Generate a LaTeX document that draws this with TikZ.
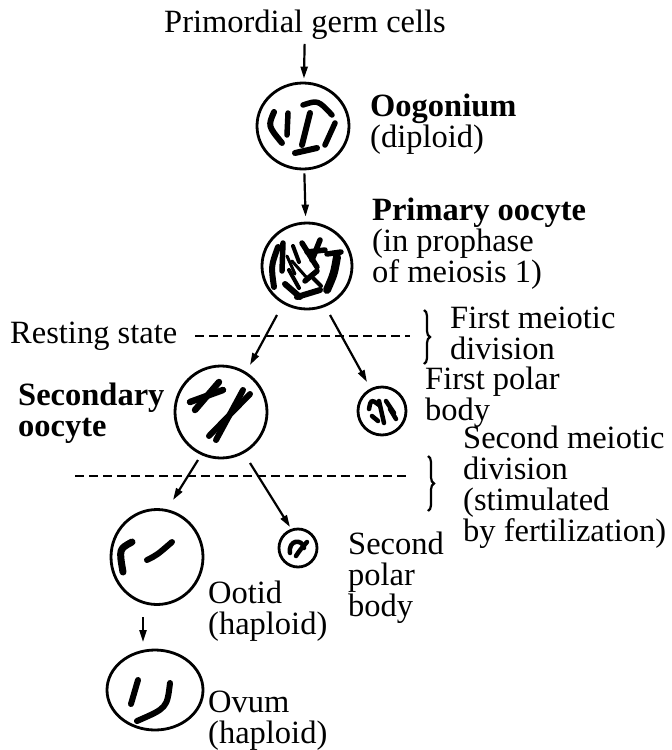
\documentclass[tikz,border=0pt]{standalone}
\usepackage{fontspec}
\setmainfont{Liberation Serif}
\usetikzlibrary{arrows.meta,shapes.geometric,decorations.pathreplacing}
\begin{document}
\begin{tikzpicture}[x=1pt,y=-1pt,
  cell/.style={draw,line width=2.8pt,ellipse,inner sep=0pt},
  lbl/.style={anchor=west,align=left,inner sep=0pt,font=\fontsize{32.5}{31}\selectfont},
  arr/.style={line width=2.2pt,-{Triangle[length=12pt,width=7pt]}},
  chrom/.style={line width=5.5pt,line cap=round,line join=round},
  divline/.style={line width=2pt,dash pattern=on 9pt off 5pt},
  brk/.style={line width=2.2pt,decorate,decoration={brace,amplitude=6pt}}
]
\useasboundingbox[fill=white] (0,0) rectangle (672,750);

% cells and labels
\node[lbl,anchor=center] (pgc) at (305,25) {Primordial germ cells};

\node[cell,minimum width=92pt,minimum height=86pt] (oog) at (303,126) {};
\node[lbl] (oogl) at (370,124) {\textbf{Oogonium}\\(diploid)};

\node[cell,minimum width=90pt,minimum height=86pt] (po) at (307,266) {};
\node[lbl] (pol) at (372,244) {\textbf{Primary oocyte}\\(in prophase\\of meiosis 1)};

\node[lbl] (rest) at (10,336) {Resting state};
\coordinate (d1a) at (195,336);
\coordinate (d1b) at (410,336);
\coordinate (b1t) at (424,310);
\coordinate (b1b) at (424,364);
\node[lbl] (fmd) at (450,333) {First meiotic\\division};

\node[cell,minimum size=92pt] (so) at (221,412) {};
\node[lbl] (sol) at (18,413) {\textbf{Secondary}\\\textbf{oocyte}};
\node[cell,minimum size=48pt] (fpb) at (382,411) {};
\node[lbl] (fpbl) at (425,397) {First polar\\body};

\coordinate (d2a) at (75,476);
\coordinate (d2b) at (410,476);
\coordinate (b2t) at (428,456);
\coordinate (b2b) at (428,511);
\node[lbl] (smd) at (463,487) {Second meiotic\\division\\(stimulated\\by fertilization)};

\node[cell,minimum width=92pt,minimum height=95pt] (oot) at (157,557) {};
\node[cell,minimum size=38pt] (spb) at (298,548) {};
\node[lbl] (spbl) at (348,578) {Second\\polar\\body};
\node[lbl] (ootl) at (208,611) {Ootid\\(haploid)};

\node[cell,minimum width=96pt,minimum height=80pt] (ov) at (155,690) {};
\node[lbl] (ovl) at (208,721) {Ovum\\(haploid)};

% connectors
\draw[arr,shorten <=4pt,shorten >=3pt] (pgc) -- (oog);
\draw[arr,shorten <=3pt,shorten >=5pt] (oog) -- (po);
\draw[arr] ([shift={(-30,49)}]po.center) -- ([shift={(29,-47)}]so.center);
\draw[arr] ([shift={(23,49)}]po.center) -- ([shift={(-15,-29)}]fpb.center);
\draw[arr] ([shift={(-23,48)}]so.center) -- ([shift={(16,-57)}]oot.center);
\draw[arr] ([shift={(29,51)}]so.center) -- ([shift={(-8,-21)}]spb.center);
\draw[arr] ([shift={(-14,60)}]oot.center) -- ([shift={(-12,-48)}]ov.center);

% division lines and braces
\draw[divline] (d1a) -- (d1b);
\draw[divline] (d2a) -- (d2b);
\draw[brk] (b1t) -- (b1b);
\draw[brk] (b2t) -- (b2b);

% chromosomes: oogonium
\begin{scope}[shift={(oog.center)}]
  \draw[chrom,line width=6pt] (-29,-14) .. controls (-35,0) .. (-21,17);
  \draw[chrom] (-15,-13) -- (-16,9);
  \draw[chrom,line width=6pt] (7,-13) -- (-1,19);
  \draw[chrom] (0,-21) .. controls (15,-26) .. (29,-11);
  \draw[chrom] (32,-3) -- (22,19);
  \draw[chrom,line width=6pt] (-8,27) -- (14,22);
\end{scope}

% chromosomes: primary oocyte
\begin{scope}[shift={(po.center)}]
  \draw[chrom,line width=6pt] (-29,-19) .. controls (-36,0) .. (-33,21);
  \draw[chrom] (-24,-23) -- (-25,5);
  \draw[chrom,line width=3pt] (-20,-10) -- (-12,8);
  \draw[chrom,line width=6pt] (-22,18) -- (-7,31);
  \draw[chrom] (-5,-23) -- (10,1);
  \draw[chrom] (13,-26) -- (5,-6);
  \draw[chrom] (0,-14) -- (18,-16);
  \draw[chrom,line width=8pt] (30,-9) .. controls (27,8) .. (20,24);
  \draw[chrom] (20,-12) -- (34,-14);
  \draw[chrom,line width=6pt] (-10,31) -- (13,24);
  \draw[chrom] (-2,15) -- (10,5);
  \draw[chrom,line width=3pt] (-15,-5) -- (0,12);
  \draw[chrom,line width=4pt] (-14,-20) -- (-8,-4);
  \draw[chrom,line width=4pt] (-18,4) -- (-8,22);
  \draw[chrom,line width=4pt] (6,12) -- (14,20);
\end{scope}

% chromosomes: secondary oocyte
\begin{scope}[shift={(so.center)}]
  \draw[chrom,line width=6.5pt] (-31,-10) -- (2,-22);
  \draw[chrom,line width=6.5pt] (-26,-2) -- (-2,-30);
  \draw[chrom,line width=6pt] (-12,24) -- (29,-18);
  \draw[chrom,line width=6pt] (-5,28) -- (22,-22);
\end{scope}

% chromosomes: first polar body
\begin{scope}[shift={(fpb.center)}]
  \draw[chrom,line width=4.5pt] (-13,-2) .. controls (-11,-12) .. (-3,-6);
  \draw[chrom,line width=4.5pt] (-3,-10) -- (2,12);
  \draw[chrom,line width=4.5pt] (4,-10) -- (12,2);
  \draw[chrom,line width=4.5pt] (-10,5) -- (-4,10);
  \draw[chrom,line width=4.5pt] (8,-2) -- (14,8);
\end{scope}

% chromosomes: second polar body
\begin{scope}[shift={(spb.center)}]
  \draw[chrom,line width=4.5pt] (-8,5) .. controls (-10,-8) and (4,-10) .. (6,0);
  \draw[chrom,line width=4.5pt] (-2,8) .. controls (2,2) .. (9,-6);
\end{scope}

% chromosomes: ootid
\begin{scope}[shift={(oot.center)}]
  \draw[chrom,line width=7pt] (-34,15) .. controls (-38,-8) .. (-25,-15);
  \draw[chrom,line width=6pt] (-10,3) .. controls (0,-2) .. (15,-15);
\end{scope}

% chromosomes: ovum
\begin{scope}[shift={(ov.center)}]
  \draw[chrom,line width=6pt] (-17,-10) -- (-24,14);
  \draw[chrom,line width=6pt] (15,-7) .. controls (12,18) .. (-18,31);
\end{scope}
\end{tikzpicture}
\end{document}
